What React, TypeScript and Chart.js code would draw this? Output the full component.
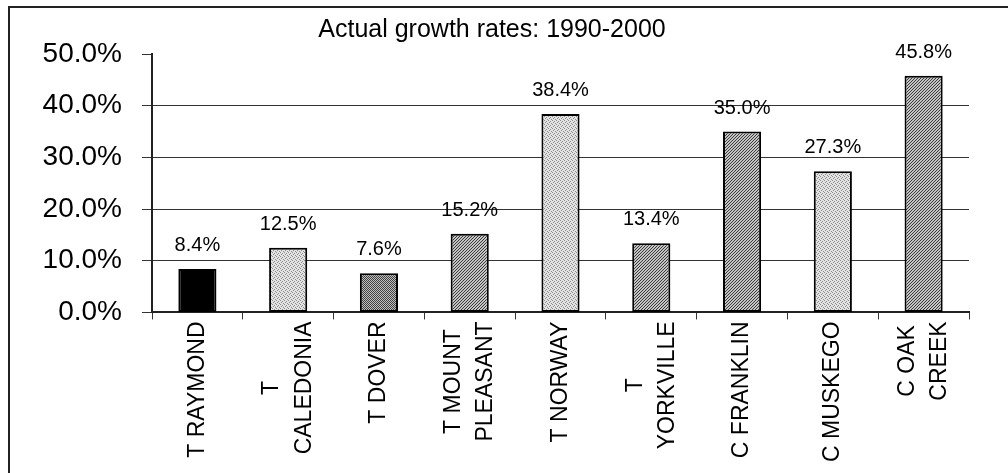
import React, { useEffect, useRef } from "react";
import { Chart, registerables } from "chart.js";

Chart.register(...registerables);

const TITLE = "Actual growth rates: 1990-2000";
const categories: (string | string[])[] = [
  "T RAYMOND",
  ["T", "CALEDONIA"],
  "T DOVER",
  ["T MOUNT", "PLEASANT"],
  "T NORWAY",
  ["T", "YORKVILLE"],
  "C FRANKLIN",
  "C MUSKEGO",
  ["C OAK", "CREEK"],
];
const growthValues = [8.4, 12.5, 7.6, 15.2, 38.4, 13.4, 35.0, 27.3, 45.8];
const fillKinds = ["solid", "light", "dots", "hatch", "light", "hatch", "hatch", "light", "hatch"];
const yTicks = [0, 10, 20, 30, 40, 50];

const FONT = "'Liberation Sans', Arial, Helvetica, sans-serif";
const X_FONT_SIZE = 23;
const X_LINE_HEIGHT = 1.4;

function makePattern(kind: string): CanvasPattern | string {
  if (kind === "solid") return "#000000";
  const c = document.createElement("canvas");
  const ctx = c.getContext("2d")!;
  if (kind === "light") {
    c.width = 4; c.height = 4;
    ctx.fillStyle = "#e4e4e4"; ctx.fillRect(0, 0, 4, 4);
    ctx.fillStyle = "#8a8a8a";
    ctx.fillRect(0, 0, 1, 1); ctx.fillRect(2, 1, 1, 1); ctx.fillRect(1, 2, 1, 1); ctx.fillRect(3, 3, 1, 1);
  } else if (kind === "dots") {
    c.width = 2; c.height = 2;
    ctx.fillStyle = "#c0c0c0"; ctx.fillRect(0, 0, 2, 2);
    ctx.fillStyle = "#404040";
    ctx.fillRect(0, 0, 1, 1); ctx.fillRect(1, 1, 1, 1);
  } else {
    c.width = 3; c.height = 3;
    ctx.fillStyle = "#c4c4c4"; ctx.fillRect(0, 0, 3, 3);
    ctx.fillStyle = "#3a3a3a";
    ctx.fillRect(2, 0, 1, 1); ctx.fillRect(1, 1, 1, 1); ctx.fillRect(0, 2, 1, 1);
  }
  return ctx.createPattern(c, "repeat")!;
}

const framePlugin = {
  id: "frame",
  beforeDraw(chart: any) {
    const ctx = chart.ctx;
    ctx.save();
    ctx.fillStyle = "#ffffff";
    ctx.fillRect(0, 0, chart.width, chart.height);
    ctx.strokeStyle = "#222222";
    ctx.lineWidth = 2;
    ctx.beginPath();
    ctx.moveTo(9, chart.height);
    ctx.lineTo(9, 7);
    ctx.lineTo(chart.width, 7);
    ctx.stroke();
    ctx.restore();
  },
};

// Center multi-line rotated category labels (as in the reference) instead of
// Chart.js's default first-line-at-tick, end-aligned placement.
const centerLabelsPlugin = {
  id: "centerLabels",
  beforeDraw(chart: any) {
    const scale = chart.scales.x;
    const items = scale.getLabelItems(chart.chartArea);
    const ctx = chart.ctx;
    ctx.save();
    ctx.font = `${X_FONT_SIZE}px ${FONT}`;
    const lh = X_FONT_SIZE * X_LINE_HEIGHT;
    items.forEach((item: any) => {
      const label = item.label;
      if (!Array.isArray(label) || label.length < 2) return;
      const n = label.length;
      const widths = label.map((l: string) => ctx.measureText(l).width);
      const maxW = Math.max(...widths);
      const tr = item.options.translation;
      item.options.translation = [tr[0] - ((n - 1) * lh) / 2, tr[1] + maxW / 2];
      item.options.textAlign = "center";
    });
    ctx.restore();
  },
};

const valueLabelPlugin = {
  id: "valueLabels",
  afterDatasetsDraw(chart: any) {
    const ctx = chart.ctx;
    const meta = chart.getDatasetMeta(0);
    ctx.save();
    ctx.font = `20px ${FONT}`;
    ctx.fillStyle = "#000000";
    ctx.textAlign = "center";
    ctx.textBaseline = "alphabetic";
    meta.data.forEach((bar: any, i: number) => {
      const v = chart.data.datasets[0].data[i] as number;
      ctx.fillText(`${v.toFixed(1)}%`, bar.x, bar.y - 18);
    });
    ctx.restore();
  },
};

const titlePlugin = {
  id: "customTitle",
  afterDraw(chart: any) {
    const ctx = chart.ctx;
    ctx.save();
    ctx.font = `25px ${FONT}`;
    ctx.fillStyle = "#000000";
    ctx.textAlign = "center";
    ctx.textBaseline = "alphabetic";
    ctx.fillText(TITLE, 492, 37);
    ctx.restore();
  },
};

export default function App() {
  const ref = useRef<HTMLCanvasElement>(null);
  useEffect(() => {
    if (!ref.current) return;
    const chart = new Chart(ref.current, {
      type: "bar",
      data: {
        labels: categories,
        datasets: [
          {
            data: growthValues,
            backgroundColor: fillKinds.map(makePattern) as any,
            borderColor: "#000000",
            borderWidth: 2,
            borderSkipped: false,
            barPercentage: 0.42,
            categoryPercentage: 1,
          },
        ],
      },
      options: {
        responsive: false,
        animation: false,
        events: [],
        layout: { padding: { left: 15, right: 39, top: 54, bottom: 9 } },
        plugins: {
          legend: { display: false },
          title: { display: false },
          tooltip: { enabled: false },
        },
        scales: {
          x: {
            grid: {
              display: true,
              drawOnChartArea: false,
              drawTicks: true,
              tickLength: 7,
              offset: true,
              tickColor: "#333333",
              tickWidth: 1,
            },
            border: { display: true, color: "#222222", width: 2 },
            ticks: {
              autoSkip: false,
              minRotation: 90,
              maxRotation: 90,
              padding: 2,
              color: "#000000",
              font: { family: FONT, size: X_FONT_SIZE, lineHeight: X_LINE_HEIGHT },
            },
          },
          y: {
            min: 0,
            max: 50,
            afterBuildTicks: (scale: any) => {
              scale.ticks = yTicks.map((v) => ({ value: v }));
            },
            afterFit: (scale: any) => {
              scale.width = 137;
            },
            grid: {
              drawTicks: true,
              tickLength: 10,
              color: (c: any) =>
                c.tick && (c.tick.value === 50 || c.tick.value === 0) ? "rgba(0,0,0,0)" : "#333333",
              tickColor: "#333333",
              lineWidth: 1,
            },
            border: { display: true, color: "#222222", width: 2 },
            ticks: {
              padding: 20,
              color: "#000000",
              font: { family: FONT, size: 28 },
              callback: (v: any) => `${Number(v).toFixed(1)}%`,
            },
          },
        },
      },
      plugins: [framePlugin, centerLabelsPlugin, valueLabelPlugin, titlePlugin],
    });
    return () => chart.destroy();
  }, []);
  return (
    <div style={{ position: "absolute", left: 0, top: 0, width: 1008, height: 473 }}>
      <canvas ref={ref} width={1008} height={473} style={{ display: "block" }} />
    </div>
  );
}
